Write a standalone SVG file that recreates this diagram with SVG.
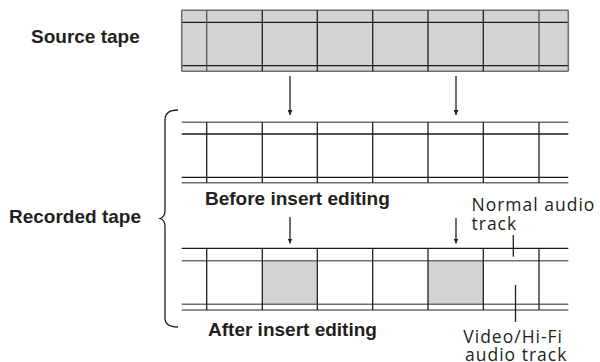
<svg xmlns="http://www.w3.org/2000/svg" width="600" height="362" viewBox="0 0 600 362">
<style>
.bold{font-family:"Liberation Sans",Arial,sans-serif;font-weight:bold;font-size:19px;fill:#231f20}
.reg{font-family:"Open Sans","Liberation Sans",sans-serif;font-size:17.5px;fill:#231f20;letter-spacing:1px}
.blk{stroke:#1a1a1a;stroke-width:1.3;fill:none}
.gry{stroke:#6d6e70;stroke-width:1.6;fill:none}
.vl{stroke:#231f20;stroke-width:1.3}
.arr{stroke:#231f20;stroke-width:1.3;fill:none}
</style>
<defs>
<marker id="ah" viewBox="0 0 10 10" refX="10" refY="5" markerWidth="5" markerHeight="5" markerUnits="userSpaceOnUse" orient="auto">
<path d="M0,0 L10,5 L0,10 Z" fill="#231f20"/>
</marker>
</defs>

<g id="source-tape">
<rect x="181.7" y="10.3" width="386.6" height="61" fill="#d1d3d4"/>
<line class="gry" x1="181.7" y1="10.3" x2="568.3" y2="10.3"/>
<line class="blk" x1="181.7" y1="22.3" x2="568.3" y2="22.3"/>
<line class="blk" x1="181.7" y1="65.7" x2="568.3" y2="65.7"/>
<line class="gry" x1="181.7" y1="71.3" x2="568.3" y2="71.3"/>
<line class="gry" x1="181.7" y1="10.3" x2="181.7" y2="71.3"/>
<line class="gry" x1="568.3" y1="10.3" x2="568.3" y2="71.3"/>
<g class="vl">
<line x1="206.7" y1="10.3" x2="206.7" y2="71.3" stroke="#555"/>
<line x1="262.3" y1="10.3" x2="262.3" y2="71.3"/>
<line x1="317.3" y1="10.3" x2="317.3" y2="71.3"/>
<line x1="372.7" y1="10.3" x2="372.7" y2="71.3"/>
<line x1="428" y1="10.3" x2="428" y2="71.3"/>
<line x1="483.3" y1="10.3" x2="483.3" y2="71.3"/>
<line x1="539" y1="10.3" x2="539" y2="71.3" stroke="#555"/>
</g>
</g>

<g id="tape-before">
<line class="gry" x1="181.7" y1="122.3" x2="568.3" y2="122.3"/>
<line class="blk" x1="181.7" y1="134" x2="568.3" y2="134"/>
<line class="blk" x1="181.7" y1="177.3" x2="568.3" y2="177.3"/>
<line class="gry" x1="181.7" y1="182.7" x2="568.3" y2="182.7"/>
<g class="vl">
<line x1="206.7" y1="122.3" x2="206.7" y2="182.7"/>
<line x1="262.3" y1="122.3" x2="262.3" y2="182.7"/>
<line x1="317.3" y1="122.3" x2="317.3" y2="182.7"/>
<line x1="372.7" y1="122.3" x2="372.7" y2="182.7"/>
<line x1="428" y1="122.3" x2="428" y2="182.7"/>
<line x1="483.3" y1="122.3" x2="483.3" y2="182.7"/>
<line x1="539" y1="122.3" x2="539" y2="182.7"/>
</g>
</g>

<g id="tape-after">
<rect x="262.3" y="260.7" width="55" height="43.6" fill="#d1d3d4"/>
<rect x="428" y="260.7" width="55.3" height="43.6" fill="#d1d3d4"/>
<line class="blk" x1="181.7" y1="248.3" x2="568.3" y2="248.3"/>
<line class="gry" x1="181.7" y1="260.7" x2="568.3" y2="260.7" stroke="#444"/>
<line class="gry" x1="181.7" y1="304.3" x2="568.3" y2="304.3"/>
<line class="gry" x1="181.7" y1="310" x2="568.3" y2="310"/>
<g class="vl">
<line x1="206.7" y1="248.3" x2="206.7" y2="310"/>
<line x1="262.3" y1="248.3" x2="262.3" y2="310"/>
<line x1="317.3" y1="248.3" x2="317.3" y2="310"/>
<line x1="372.7" y1="248.3" x2="372.7" y2="310"/>
<line x1="428" y1="248.3" x2="428" y2="310"/>
<line x1="483.3" y1="248.3" x2="483.3" y2="310"/>
<line x1="539" y1="248.3" x2="539" y2="310"/>
</g>
</g>

<g id="connectors">
<line class="arr" x1="290" y1="76" x2="290" y2="115" marker-end="url(#ah)"/>
<line class="arr" x1="456" y1="76" x2="456" y2="115" marker-end="url(#ah)"/>
<line class="arr" x1="290" y1="217" x2="290" y2="243.5" marker-end="url(#ah)"/>
<line class="arr" x1="456" y1="218" x2="456" y2="243.5" marker-end="url(#ah)"/>
<line class="arr" x1="513.3" y1="235" x2="513.3" y2="256.7"/>
<line class="arr" x1="515.5" y1="285" x2="515.5" y2="322"/>
<path class="arr" d="M178,110 C170,110 165,113 165,120 L165,211 C165,215.5 163,217.5 160,218.5 C163,219.5 165,221.5 165,226 L165,318 C165,324 170,327 178,327"/>
</g>

<g id="labels">
<text class="bold" x="31" y="43">Source tape</text>
<text class="bold" x="9" y="223">Recorded tape</text>
<text class="bold" x="205" y="205">Before insert editing</text>
<text class="bold" x="208" y="336">After insert editing</text>
<text class="reg" x="471.5" y="211">Normal audio</text>
<text class="reg" x="471.5" y="230">track</text>
<text class="reg" x="463.3" y="342.5">Video/Hi-Fi</text>
<text class="reg" x="465" y="361">audio track</text>
</g>
</svg>
